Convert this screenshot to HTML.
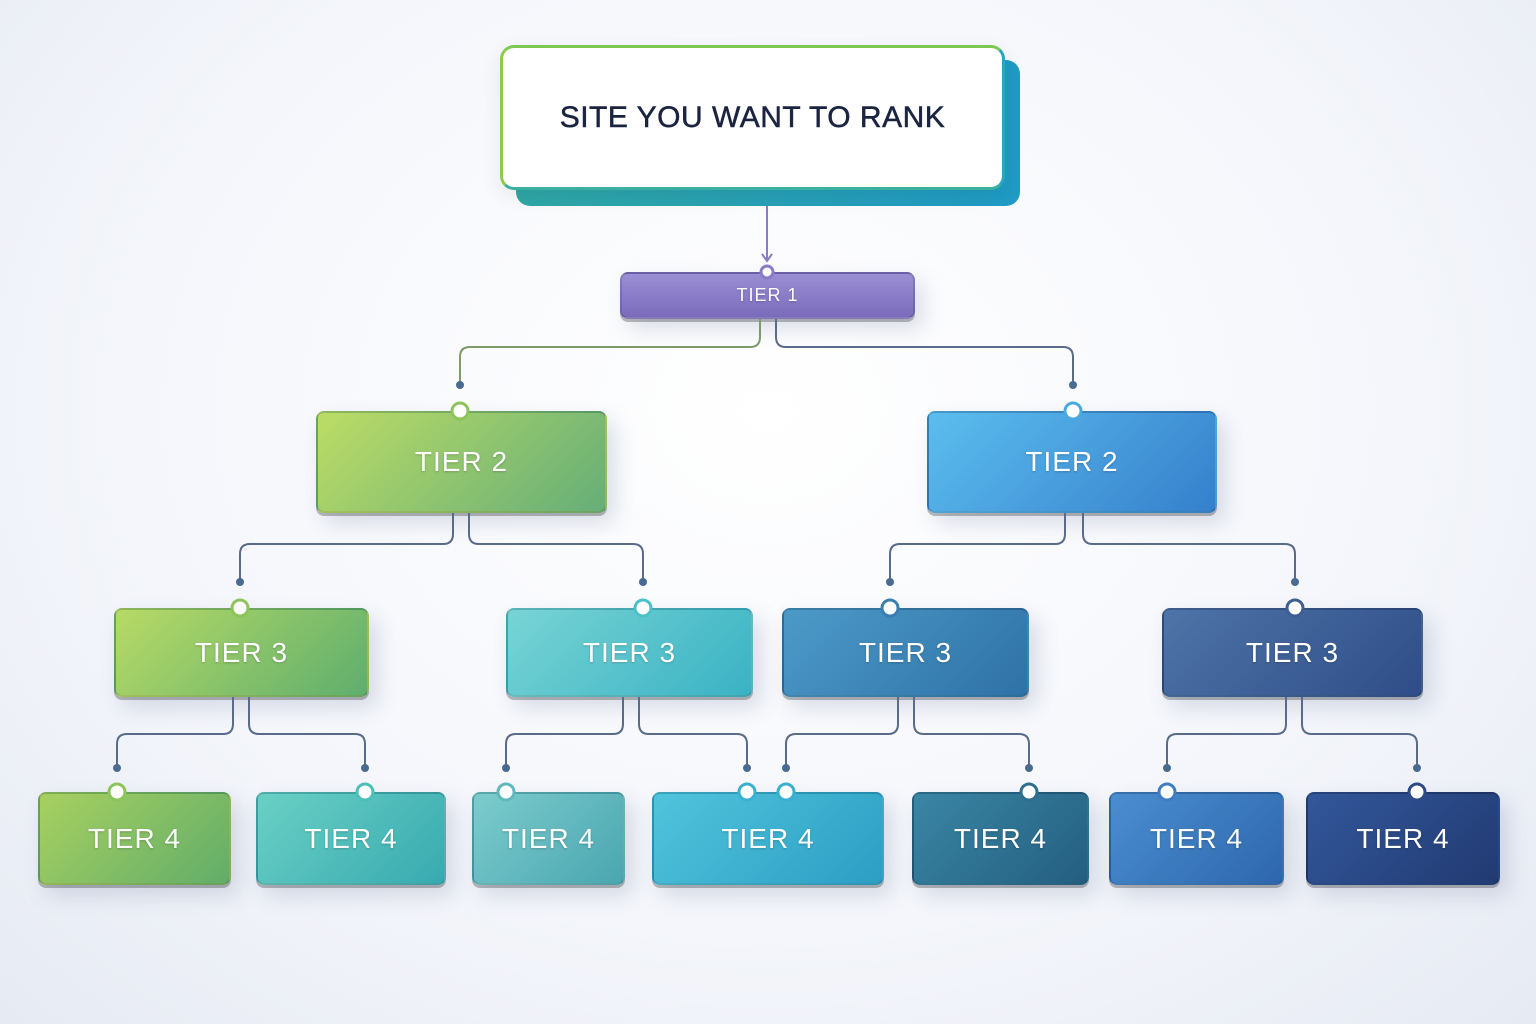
<!DOCTYPE html>
<html><head><meta charset="utf-8"><style>
body{margin:0;width:1536px;height:1024px;overflow:hidden;background:radial-gradient(ellipse at 50% 40%,#ffffff 0%,#f4f6fb 60%,#e6eaf3 100%);font-family:"Liberation Sans",sans-serif;}
.b{position:absolute;border-radius:8px;color:#fff;display:flex;align-items:center;justify-content:center;letter-spacing:1px;box-shadow:0 3px 0 rgba(0,0,0,.25),8px 10px 22px rgba(60,80,120,.18);border:2px solid rgba(0,0,0,.12);box-sizing:border-box;text-shadow:0 1px 2px rgba(0,0,0,.2)}
</style></head><body>
<div style="position:absolute;left:516px;top:60px;width:504px;height:146px;border-radius:14px;background:linear-gradient(90deg,#2fa7a6,#1f9bc6)"></div>
<div style="position:absolute;left:500px;top:45px;width:505px;height:145px;border-radius:14px;background:#fff;border:3px solid;border-color:#7cc850 #26a6c0 #3bb0a0 #8ccc48;box-sizing:border-box;display:flex;align-items:center;justify-content:center;font-size:30px;color:#1a2440;letter-spacing:.5px;box-shadow:0 6px 20px rgba(0,0,0,.08);-webkit-text-stroke:0.5px #1a2440">SITE YOU WANT TO RANK</div>
<div class="b" style="left:620px;top:272px;width:295px;height:47px;background:linear-gradient(#9a8ed4,#7b6cbb);font-size:18px">TIER 1</div>
<div class="b" style="left:316px;top:411px;width:291px;height:102px;background:linear-gradient(135deg,#bcdc66,#66ae78);font-size:28px">TIER 2</div>
<div class="b" style="left:927px;top:411px;width:290px;height:102px;background:linear-gradient(135deg,#5cbdee,#3580cc);font-size:28px">TIER 2</div>
<div class="b" style="left:114px;top:608px;width:255px;height:89px;background:linear-gradient(135deg,#b8da66,#5fae6e);font-size:28px">TIER 3</div>
<div class="b" style="left:506px;top:608px;width:247px;height:89px;background:linear-gradient(135deg,#78d4d4,#3ab2c4);font-size:28px">TIER 3</div>
<div class="b" style="left:782px;top:608px;width:247px;height:89px;background:linear-gradient(135deg,#4c9ac8,#2f72a6);font-size:28px">TIER 3</div>
<div class="b" style="left:1162px;top:608px;width:261px;height:89px;background:linear-gradient(135deg,#4e74a8,#2f4d88);font-size:28px">TIER 3</div>
<div class="b" style="left:38px;top:792px;width:193px;height:93px;background:linear-gradient(135deg,#a8d060,#62ad6a);font-size:28px">TIER 4</div>
<div class="b" style="left:256px;top:792px;width:190px;height:93px;background:linear-gradient(135deg,#6ad0c4,#38aab0);font-size:28px">TIER 4</div>
<div class="b" style="left:472px;top:792px;width:153px;height:93px;background:linear-gradient(135deg,#7ccccc,#4aa6b0);font-size:28px">TIER 4</div>
<div class="b" style="left:652px;top:792px;width:232px;height:93px;background:linear-gradient(135deg,#50c4dc,#2c9ec4);font-size:28px">TIER 4</div>
<div class="b" style="left:912px;top:792px;width:177px;height:93px;background:linear-gradient(135deg,#3a86a4,#245e80);font-size:28px">TIER 4</div>
<div class="b" style="left:1109px;top:792px;width:175px;height:93px;background:linear-gradient(135deg,#4a8ed0,#2e66ac);font-size:28px">TIER 4</div>
<div class="b" style="left:1306px;top:792px;width:194px;height:93px;background:linear-gradient(135deg,#33579a,#213a72);font-size:28px">TIER 4</div>
<svg width="1536" height="1024" style="position:absolute;left:0;top:0" fill="none" stroke-width="2">
<g stroke="#5a6b8a">
<path d="M767 206V260" stroke="#8a7cc4"/>
<path d="M762 254l5 7 5-7" stroke="#8a7cc4"/>
<path d="M760 319V337q0 10-10 10H470q-10 0-10 10V385" stroke="#7e9a6a"/>
<path d="M776 319V337q0 10 10 10H1063q10 0 10 10V385"/>
<path d="M453 513V534q0 10-10 10H250q-10 0-10 10V582"/>
<path d="M469 513V534q0 10 10 10H633q10 0 10 10V582"/>
<path d="M1065 513V534q0 10-10 10H900q-10 0-10 10V582"/>
<path d="M1083 513V534q0 10 10 10H1285q10 0 10 10V582"/>
<path d="M233 697V724q0 10-10 10H127q-10 0-10 10V768"/>
<path d="M249 697V724q0 10 10 10H355q10 0 10 10V768"/>
<path d="M623 697V724q0 10-10 10H516q-10 0-10 10V768"/>
<path d="M639 697V724q0 10 10 10H737q10 0 10 10V768"/>
<path d="M898 697V724q0 10-10 10H796q-10 0-10 10V768"/>
<path d="M914 697V724q0 10 10 10H1019q10 0 10 10V768"/>
<path d="M1286 697V724q0 10-10 10H1177q-10 0-10 10V768"/>
<path d="M1302 697V724q0 10 10 10H1407q10 0 10 10V768"/>
</g>
<g fill="#4a6a90">
<circle cx="460" cy="385" r="4"/><circle cx="1073" cy="385" r="4"/>
<circle cx="240" cy="582" r="4"/><circle cx="643" cy="582" r="4"/><circle cx="890" cy="582" r="4"/><circle cx="1295" cy="582" r="4"/>
<circle cx="117" cy="768" r="4"/><circle cx="365" cy="768" r="4"/><circle cx="506" cy="768" r="4"/><circle cx="747" cy="768" r="4"/><circle cx="786" cy="768" r="4"/><circle cx="1029" cy="768" r="4"/><circle cx="1167" cy="768" r="4"/><circle cx="1417" cy="768" r="4"/>
</g>
<g fill="#fff" stroke-width="3">
<circle cx="767" cy="272" r="6" stroke="#8a7cc4"/>
<circle cx="460" cy="411" r="8" stroke="#8cc45a"/><circle cx="1073" cy="411" r="8" stroke="#4aa8e0"/>
<circle cx="240" cy="608" r="8" stroke="#8cc45a"/><circle cx="643" cy="608" r="8" stroke="#4ac0c8"/><circle cx="890" cy="608" r="8" stroke="#3a7eb0"/><circle cx="1295" cy="608" r="8" stroke="#3d5e95"/>
<circle cx="117" cy="792" r="8" stroke="#8cc45a"/><circle cx="365" cy="792" r="8" stroke="#4ac0b8"/><circle cx="506" cy="792" r="8" stroke="#60b8bc"/><circle cx="747" cy="792" r="8" stroke="#3ab0d0"/><circle cx="786" cy="792" r="8" stroke="#3ab0d0"/><circle cx="1029" cy="792" r="8" stroke="#2e6f8e"/><circle cx="1167" cy="792" r="8" stroke="#3e7dc4"/><circle cx="1417" cy="792" r="8" stroke="#2c4a85"/>
</g>
</svg>
</body></html>
